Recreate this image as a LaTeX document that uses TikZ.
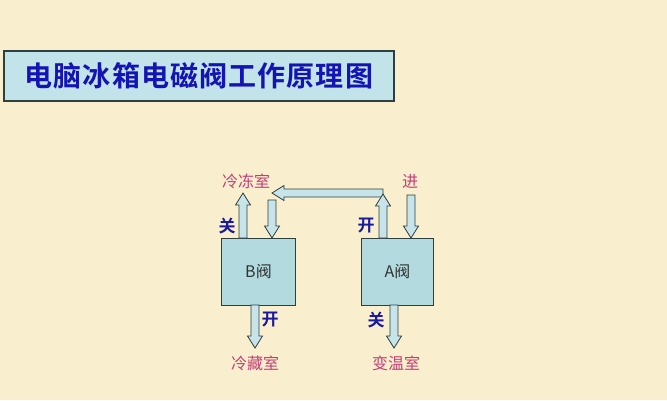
\documentclass[tikz,border=0pt]{standalone}
\usepackage{fontspec}
\newfontfamily\cjk{Noto Sans CJK SC}
\newfontfamily\cjkbold{Noto Sans CJK SC Bold}
\definecolor{bg}{HTML}{F9EECD}
\definecolor{titlefill}{HTML}{C2E3EA}
\definecolor{titleblue}{HTML}{1414B4}
\definecolor{boxfill}{HTML}{B2DADF}
\definecolor{edgecol}{HTML}{2F3F40}
\definecolor{pipefill}{HTML}{C6E4EA}
\definecolor{pinktext}{HTML}{C63C78}
\definecolor{bluetext}{HTML}{1A1A9E}
\newcommand\vpipe[4]{%
  \filldraw[pipe] ({#1-4},#2) -- ({#1-4},{#3-#4*12}) -- ({#1-7.5},{#3-#4*12}) -- (#1,#3)
    -- ({#1+7.5},{#3-#4*12}) -- ({#1+4},{#3-#4*12}) -- ({#1+4},#2) -- cycle;}
\newcommand\hpipe[4]{%
  \filldraw[pipe] (#2,{#1-4}) -- ({#3-#4*12},{#1-4}) -- ({#3-#4*12},{#1-7.5}) -- (#3,#1)
    -- ({#3-#4*12},{#1+7.5}) -- ({#3-#4*12},{#1+4}) -- (#2,{#1+4}) -- cycle;}
\begin{document}
\begin{tikzpicture}[x=1pt,y=-1pt,
  pipe/.style={draw=edgecol, fill=pipefill, line width=0.8pt},
  valve/.style={draw=edgecol, fill=boxfill, line width=1pt, anchor=north west,
    font=\fontsize{16}{16}\selectfont\cjk, text=black!80},
  place/.style={text=pinktext, font=\fontsize{16}{16}\selectfont\cjk},
  state/.style={text=bluetext, font=\fontsize{17}{17}\selectfont\cjkbold}]
\fill[bg] (0,0) rectangle (667,400);
\useasboundingbox (0,0) rectangle (667,400);
\node[draw=edgecol, line width=1.8pt, fill=titlefill, anchor=north west,
  minimum width=390, minimum height=50, inner sep=0pt] (title) at (3,50) {};
\node[text=titleblue, font=\fontsize{28}{28}\selectfont\cjkbold\addfontfeature{LetterSpace=4}]
  (titletext) at (title.center) {电脑冰箱电磁阀工作原理图};
\node[valve, minimum width=74, minimum height=67] (B) at (221,238) {B阀};
\node[valve, minimum width=72, minimum height=67] (A) at (361,238) {A阀};
% pipes
\vpipe{243}{238}{193}{-1}
\hpipe{193}{383}{272}{-1}
\vpipe{272}{200}{238}{1}
\vpipe{383}{238}{194}{-1}
\vpipe{411}{195}{238}{1}
\vpipe{255}{305}{348}{1}
\vpipe{394}{305}{348}{1}
% labels
\node[place] (lengdong) at (246,181) {冷冻室};
\node[place] (jin) at (410,181) {进};
\node[place] (lengcang) at (255,363) {冷藏室};
\node[place] (bianwen) at (396,363) {变温室};
\node[state] (guanB) at (227,226) {关};
\node[state] (kaiA) at (366,226) {开};
\node[state] (kaiB) at (270,320) {开};
\node[state] (guanA) at (376,320) {关};
\end{tikzpicture}
\end{document}
